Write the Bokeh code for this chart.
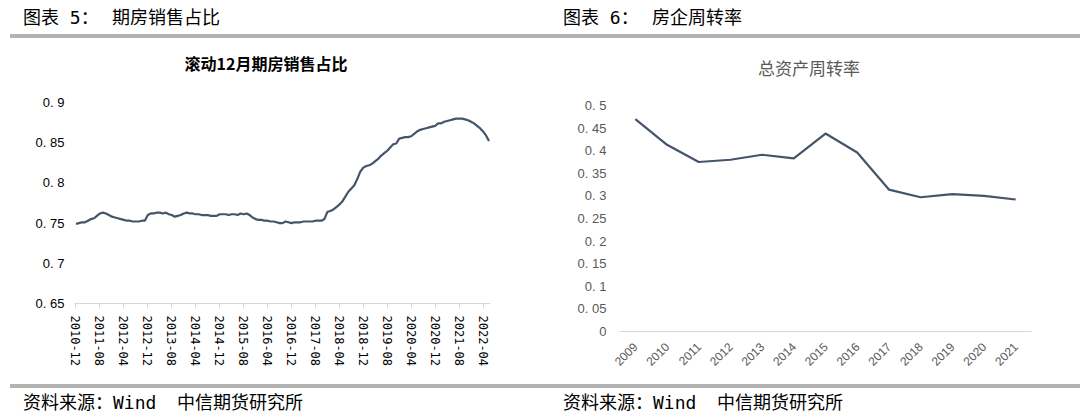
from math import pi
import pandas as pd
from bokeh.plotting import figure
from bokeh.models import Range1d, FactorRange, FixedTicker, Div, ColumnDataSource
from bokeh.layouts import column, row
from bokeh.embed import file_html
from bokeh.resources import INLINE

# ---------------- data ----------------
presale_start = "2010-12"
presale_share = [
    0.749,
    0.750, 0.751, 0.751, 0.753, 0.755, 0.756, 0.759, 0.762, 0.763, 0.762, 0.760, 0.758,
    0.757, 0.756, 0.755, 0.754, 0.753, 0.753, 0.752, 0.752, 0.752, 0.753, 0.753, 0.760,
    0.762, 0.762, 0.763, 0.763, 0.762, 0.763, 0.761, 0.760, 0.758, 0.759, 0.760, 0.762,
    0.763, 0.762, 0.762, 0.761, 0.761, 0.760, 0.760, 0.760, 0.759, 0.759, 0.759, 0.761,
    0.761, 0.761, 0.760, 0.761, 0.761, 0.760, 0.762, 0.761, 0.762, 0.760, 0.757, 0.755,
    0.754, 0.754, 0.753, 0.753, 0.752, 0.752, 0.751, 0.750, 0.750, 0.752, 0.751, 0.750,
    0.751, 0.751, 0.751, 0.752, 0.752, 0.752, 0.752, 0.753, 0.753, 0.753, 0.755, 0.764,
    0.765, 0.767, 0.770, 0.773, 0.777, 0.783, 0.789, 0.793, 0.797, 0.805, 0.814, 0.819,
    0.821, 0.822, 0.824, 0.827, 0.830, 0.834, 0.837, 0.840, 0.844, 0.848, 0.849, 0.855,
    0.856, 0.857, 0.857, 0.858, 0.861, 0.864, 0.866, 0.867, 0.868, 0.869, 0.870, 0.871,
    0.874, 0.874, 0.876, 0.877, 0.878, 0.879, 0.880, 0.880, 0.880, 0.879, 0.878, 0.876,
    0.874, 0.871, 0.868, 0.864, 0.859, 0.852,
]
presale_tick_labels = ["2010-12", "2011-08", "2012-04", "2012-12", "2013-08", "2014-04",
                       "2014-12", "2015-08", "2016-04", "2016-12", "2017-08", "2018-04",
                       "2018-12", "2019-08", "2020-04", "2020-12", "2021-08", "2022-04"]
presale_y_ticks = [0.65, 0.7, 0.75, 0.8, 0.85, 0.9]

turnover_years = ["2009", "2010", "2011", "2012", "2013", "2014", "2015",
                  "2016", "2017", "2018", "2019", "2020", "2021"]
turnover_values = [0.470, 0.413, 0.375, 0.380, 0.391, 0.383, 0.438,
                   0.396, 0.314, 0.297, 0.304, 0.300, 0.292]
turnover_y_ticks = [0, 0.05, 0.1, 0.15, 0.2, 0.25, 0.3, 0.35, 0.4, 0.45, 0.5]

LINE = "#44546A"
AXIS = "#d9d9d9"
GRAYTXT = "#595959"


def fmt(t):
    return f"{t:g}".replace(".", ". ")


# ---------------- left chart ----------------
months = list(pd.period_range(presale_start, periods=len(presale_share), freq="M").strftime("%Y-%m"))
src1 = ColumnDataSource(dict(i=list(range(len(months))), v=presale_share, m=months))
p1 = figure(width=540, height=304, x_range=Range1d(-0.5, len(months) - 0.5),
            y_range=Range1d(presale_y_ticks[0], presale_y_ticks[-1]),
            output_backend="svg", toolbar_location=None, frame_align=False,
            min_border_left=74, min_border_right=50, min_border_top=22, min_border_bottom=81)
p1.line(x="i", y="v", source=src1, line_color=LINE, line_width=2.2)
p1.xgrid.visible = False
p1.ygrid.visible = False
p1.outline_line_color = None

tick_pos = [months.index(l) for l in presale_tick_labels]
xa = p1.xaxis[0]
xa.ticker = FixedTicker(ticks=tick_pos)
xa.major_label_overrides = {t: months[t] for t in tick_pos}
xa.minor_tick_line_color = None
xa.axis_line_color = AXIS
xa.major_tick_line_color = AXIS
xa.major_tick_out = 5
xa.major_tick_in = 0
xa.major_label_orientation = "vertical"
xa.major_label_text_font = "DejaVu Sans Mono"
xa.major_label_text_font_size = "12px"
xa.major_label_text_color = "#000000"
xa.major_label_standoff = 7

ya = p1.yaxis[0]
ya.ticker = FixedTicker(ticks=presale_y_ticks)
ya.major_label_overrides = {t: fmt(t) for t in presale_y_ticks}
ya.axis_line_color = None
ya.major_tick_line_color = None
ya.minor_tick_line_color = None
ya.major_tick_out = 0
ya.major_tick_in = 0
ya.major_label_standoff = 10
ya.major_label_text_font = "Liberation Sans"
ya.major_label_text_font_size = "13px"
ya.major_label_text_color = "#000000"

# ---------------- right chart ----------------
src2 = ColumnDataSource(dict(year=turnover_years, v=turnover_values))
p2 = figure(width=540, height=304, x_range=FactorRange(*turnover_years),
            y_range=Range1d(turnover_y_ticks[0], turnover_y_ticks[-1]),
            output_backend="svg", toolbar_location=None, frame_align=False,
            min_border_left=79, min_border_right=49, min_border_top=25, min_border_bottom=53)
p2.line(x="year", y="v", source=src2, line_color=LINE, line_width=2.2)
p2.xgrid.visible = False
p2.ygrid.visible = False
p2.outline_line_color = None

xb = p2.xaxis[0]
xb.axis_line_color = AXIS
xb.major_tick_line_color = None
xb.minor_tick_line_color = None
xb.major_tick_out = 0
xb.major_label_orientation = pi / 4
xb.major_label_text_font = "Liberation Sans"
xb.major_label_text_font_size = "12px"
xb.major_label_text_color = GRAYTXT
xb.major_label_standoff = 13

yb = p2.yaxis[0]
yb.ticker = FixedTicker(ticks=turnover_y_ticks)
yb.major_label_overrides = {t: fmt(t) for t in turnover_y_ticks}
yb.axis_line_color = None
yb.major_tick_line_color = None
yb.minor_tick_line_color = None
yb.major_tick_out = 0
yb.major_tick_in = 0
yb.major_label_standoff = 13
yb.major_label_text_font = "Liberation Sans"
yb.major_label_text_font_size = "13px"
yb.major_label_text_color = GRAYTXT

# ---------------- header / footer (page text) ----------------
FONT = "font-family:'DejaVu Sans Mono','Noto Sans CJK SC',sans-serif;font-size:18px;line-height:18px;color:#000;white-space:pre;"


def span(txt, left, top, style=FONT):
    return f'<span style="position:absolute;left:{left}px;top:{top}px;{style}">{txt}</span>'


def centered(txt, cx, top, style):
    return (f'<div style="position:absolute;left:{cx - 150}px;top:{top}px;width:300px;'
            f'text-align:center;white-space:pre;{style}">{txt}</div>')


TITLE1 = "font-family:'Noto Sans CJK SC',sans-serif;font-size:16px;line-height:18px;font-weight:bold;color:#000;"
TITLE2 = "font-family:'Noto Sans CJK SC',sans-serif;font-size:17px;line-height:18px;color:#595959;"

header_html = (
    '<div style="position:relative;width:1080px;height:80px;">'
    + span("图表 5：", 23, 9) + span("期房销售占比", 112, 9)
    + span("图表 6：", 563, 9) + span("房企周转率", 652, 9)
    + '<div style="position:absolute;left:10px;top:34px;width:1070px;height:4px;background:#b3b3b3;"></div>'
    + centered("滚动12月期房销售占比", 266, 54, TITLE1)
    + centered("总资产周转率", 809, 59, TITLE2)
    + '</div>'
)
footer_html = (
    '<div style="position:relative;width:1080px;height:33px;">'
    + '<div style="position:absolute;left:10px;top:0px;width:1070px;height:4px;background:#b3b3b3;"></div>'
    + span("资料来源：Wind", 23, 10) + span("中信期货研究所", 177, 10)
    + span("资料来源：Wind", 563, 10) + span("中信期货研究所", 717, 10)
    + '</div>'
)
header = Div(text=header_html, width=1080, height=80, margin=0)
footer = Div(text=footer_html, width=1080, height=33, margin=0)

layout = column(header, row(p1, p2, spacing=0), footer, spacing=0)
open("out.html", "w").write(file_html(layout, INLINE))
